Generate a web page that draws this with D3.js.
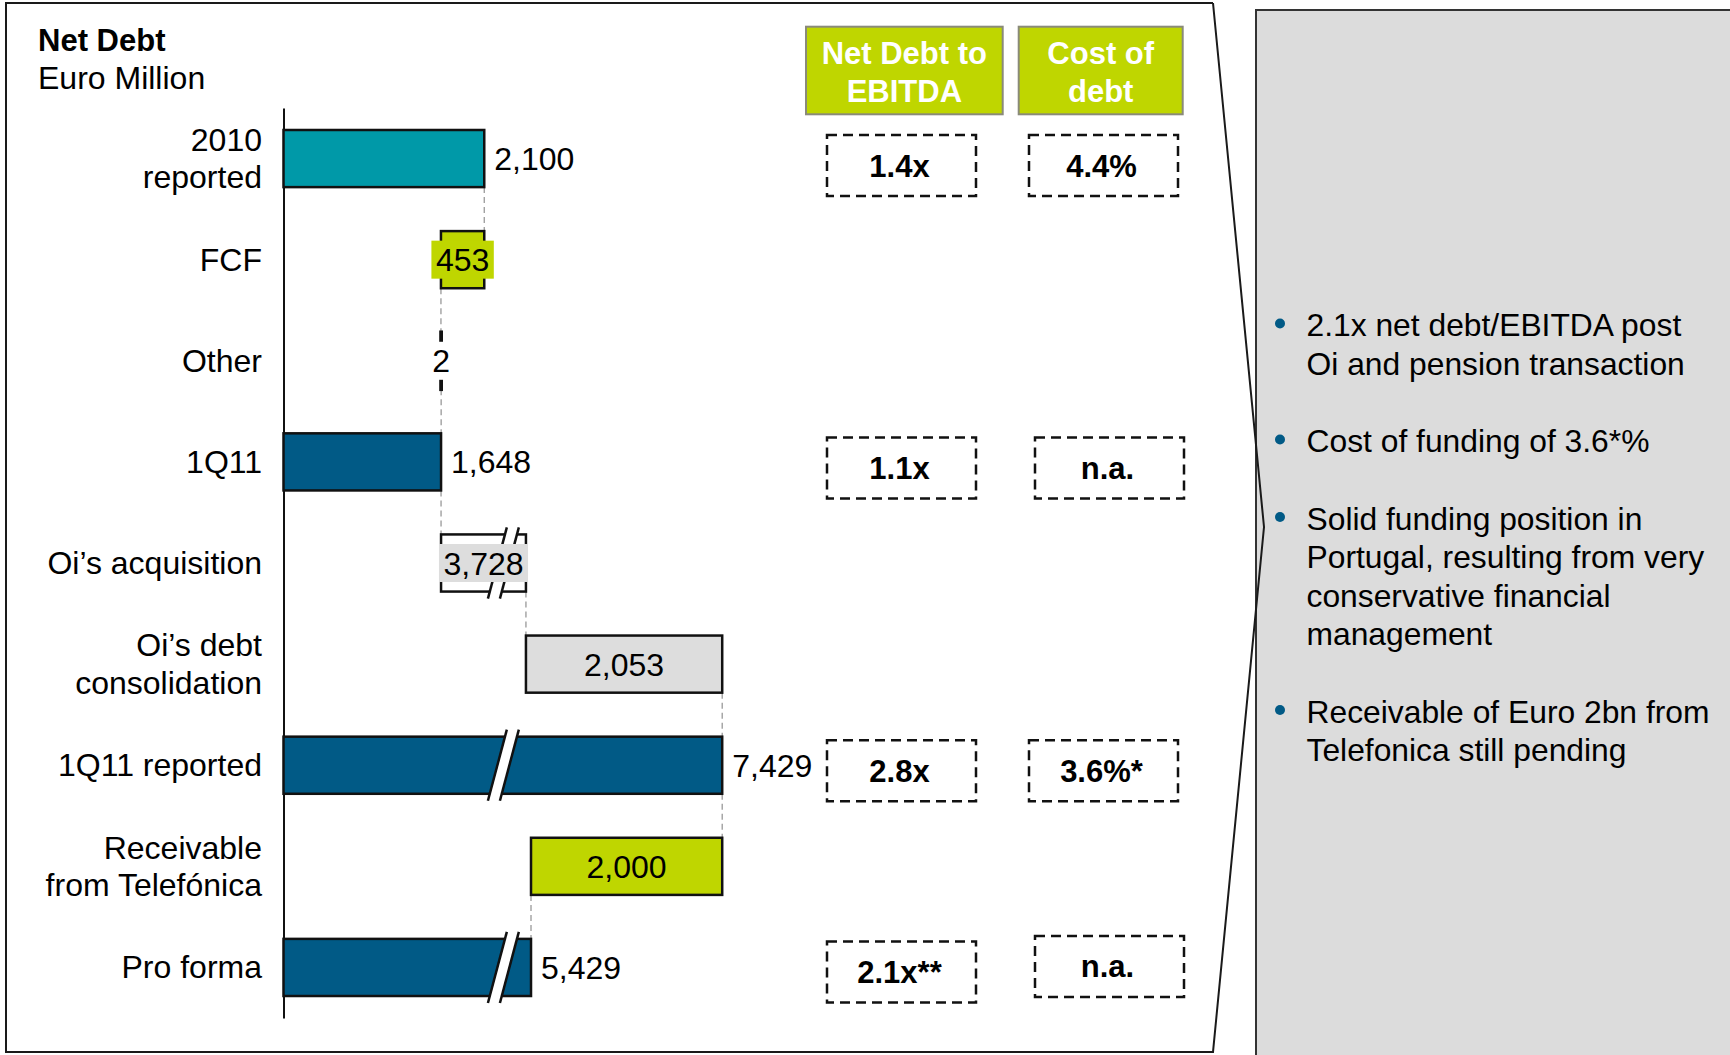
<!DOCTYPE html>
<html>
<head>
<meta charset="utf-8">
<script src="https://cdn.jsdelivr.net/npm/d3@7"></script>
<style>
  body { margin: 0; background: #fff; }
  text { font-family: "Liberation Sans", Arial, Helvetica, sans-serif; }
</style>
</head>
<body>
<script>
// ---- Net debt bridge (Euro million) ----
const categories = ["2010 reported", "FCF", "Other", "1Q11", "Oi’s acquisition",
  "Oi’s debt consolidation", "1Q11 reported", "Receivable from Telefónica", "Pro forma"];
const categoryLines = [["2010", "reported"], ["FCF"], ["Other"], ["1Q11"], ["Oi’s acquisition"],
  ["Oi’s debt", "consolidation"], ["1Q11 reported"], ["Receivable", "from Telefónica"], ["Pro forma"]];
const values = [2100, -453, 2, 1648, 3728, 2053, 7429, -2000, 5429];
const isTotal = [true, false, false, true, false, false, true, false, true];

// ---- Ratio table ----
const metricHeaders = [["Net Debt to", "EBITDA"], ["Cost of", "debt"]];
const metricRows = ["2010 reported", "1Q11", "1Q11 reported", "Pro forma"];
const netDebtToEbitda = ["1.4x", "1.1x", "2.8x", "2.1x**"];
const costOfDebt = ["4.4%", "n.a.", "3.6%*", "n.a."];

// ---- Commentary ----
const notes = [
  ["2.1x net debt/EBITDA post", "Oi and pension transaction"],
  ["Cost of funding of 3.6*%"],
  ["Solid funding position in", "Portugal, resulting from very", "conservative financial", "management"],
  ["Receivable of Euro 2bn from", "Telefonica still pending"]
];

const W = 1730, H = 1055;
const FONT = 31;
const CAT_FONT = 32;
const TEAL = "#0099a8", NAVY = "#015a86", LIME = "#bfd600", GREY = "#dddddd";

const svg = d3.select("body").append("svg").attr("width", W).attr("height", H);

// Commentary panel and the chevron frame around the chart
svg.append("rect").attr("x", 1256).attr("y", 10).attr("width", W - 1256 + 5).attr("height", H)
  .attr("fill", "#dcdcdc").attr("stroke", "#333").attr("stroke-width", 2);
svg.append("path")
  .attr("d", d3.line()([[1213, 3], [6, 3], [6, 1052], [1213, 1052], [1264, 527], [1213, 3]]))
  .attr("fill", "none").attr("stroke", "#1a1a1a").attr("stroke-width", 2);

// Title
svg.append("text").attr("x", 38).attr("y", 51).attr("font-size", FONT).attr("font-weight", "bold")
  .attr("fill", "#000").text("Net Debt");
svg.append("text").attr("x", 38).attr("y", 88.5).attr("font-size", CAT_FONT).attr("fill", "#000")
  .text("Euro Million");

// Scales: the value axis is broken between breakFrom and breakTo
const plotLeft = 283.5, pxPerUnit = 0.0956;
const breakFrom = 2300, breakTo = 5140, maxVal = d3.max(values);
const x = d3.scaleLinear()
  .domain([0, breakFrom, breakTo, maxVal])
  .range([plotLeft, plotLeft + pxPerUnit * breakFrom, plotLeft + pxPerUnit * breakFrom,
          plotLeft + pxPerUnit * (maxVal - (breakTo - breakFrom))]);
const y = d3.scaleBand().domain(categories).range([108, 1018]).paddingInner(0.435).paddingOuter(0.2175);
const bw = y.bandwidth();
const cy = c => y(c) + bw / 2;

// Waterfall geometry
let running = 0;
const bars = categories.map((c, i) => {
  let a, b;
  if (isTotal[i]) { a = 0; b = values[i]; }
  else { a = running; b = running + values[i]; }
  running = b;
  return { cat: c, i, lo: Math.min(a, b), hi: Math.max(a, b), end: b, total: isTotal[i], v: values[i] };
});

const fillOf = {
  "2010 reported": TEAL, "FCF": LIME, "Other": "#fff", "1Q11": NAVY, "Oi’s acquisition": "#fff",
  "Oi’s debt consolidation": GREY, "1Q11 reported": NAVY, "Receivable from Telefónica": LIME, "Pro forma": NAVY
};
const labelBgOf = { "FCF": LIME, "Other": "#fff", "Oi’s acquisition": GREY };

// Axis line
const axis = d3.axisLeft(y).tickSize(0).tickSizeOuter(0).tickFormat("");
svg.append("g").attr("transform", `translate(${plotLeft},0)`).call(axis)
  .call(g => g.select(".domain").attr("stroke", "#111").attr("stroke-width", 2));

// Category labels
const catG = svg.append("g");
categories.forEach((c, i) => {
  const lines = categoryLines[i];
  const lh = 37.5;
  const first = cy(c) + 11 - (lines.length - 1) * lh / 2;
  const t = catG.append("text").attr("text-anchor", "end").attr("font-size", CAT_FONT).attr("fill", "#000");
  lines.forEach((l, j) => t.append("tspan").attr("x", 262).attr("y", first + j * lh).text(l));
});

// Dashed connectors between consecutive bars
const conG = svg.append("g");
bars.slice(0, -1).forEach((b, i) => {
  const nx = bars[i + 1];
  conG.append("line")
    .attr("x1", x(b.end)).attr("x2", x(b.end))
    .attr("y1", y(b.cat) + bw).attr("y2", y(nx.cat))
    .attr("stroke", "#999").attr("stroke-width", 1.3).attr("stroke-dasharray", "6,4");
});

// Bars
const barG = svg.append("g");
barG.selectAll("rect").data(bars).join("rect")
  .attr("x", d => x(d.lo)).attr("y", d => y(d.cat))
  .attr("width", d => Math.max(0.3, x(d.hi) - x(d.lo))).attr("height", bw)
  .attr("fill", d => fillOf[d.cat]).attr("stroke", "#111")
  .attr("stroke-width", d => d.cat === "Other" ? 3.5 : 2.5);

// Break marks where a bar crosses the axis break
const slope = 0.266, gapW = 12, over = 7;
const xb = x(breakFrom);
bars.filter(d => d.lo < breakFrom && d.hi > breakTo).forEach(d => {
  const c = cy(d.cat), y0 = y(d.cat) - over, y1 = y(d.cat) + bw + over;
  const xt = xb + (c - y0) * slope, xbt = xb - (y1 - c) * slope;
  const g = barG.append("g");
  g.append("path")
    .attr("d", d3.line()([[xt - gapW / 2, y0], [xt + gapW / 2, y0], [xbt + gapW / 2, y1], [xbt - gapW / 2, y1]]) + "Z")
    .attr("fill", "#fff");
  [-1, 1].forEach(s => g.append("line")
    .attr("x1", xt + s * gapW / 2).attr("y1", y0).attr("x2", xbt + s * gapW / 2).attr("y2", y1)
    .attr("stroke", "#111").attr("stroke-width", 2.5));
});

// Value labels
const fmt = d3.format(",");
const labG = svg.append("g");
bars.forEach(d => {
  const txt = fmt(Math.abs(d.v));
  if (d.total) {
    labG.append("text").attr("x", x(d.hi) + 10).attr("y", cy(d.cat) + 11.5)
      .attr("font-size", CAT_FONT).attr("fill", "#000").text(txt);
  } else {
    const mx = (x(d.lo) + x(d.hi)) / 2;
    const bg = labG.append("rect");
    const t = labG.append("text").attr("x", mx).attr("y", cy(d.cat) + 11.5).attr("text-anchor", "middle")
      .attr("font-size", CAT_FONT).attr("fill", "#000").text(txt);
    if (labelBgOf[d.cat]) {
      const w = t.node().getComputedTextLength() + 9;
      bg.attr("x", mx - w / 2).attr("y", cy(d.cat) - 19).attr("width", w).attr("height", 38)
        .attr("fill", labelBgOf[d.cat]);
    } else bg.remove();
  }
});

// Ratio table headers
const headerBoxes = [{ x0: 806, x1: 1002.7 }, { x0: 1018.7, x1: 1182.7 }];
headerBoxes.forEach((hb, i) => {
  svg.append("rect").attr("x", hb.x0).attr("y", 26.7).attr("width", hb.x1 - hb.x0).attr("height", 87.6)
    .attr("fill", LIME).attr("stroke", "#8a8a7a").attr("stroke-width", 2);
  const t = svg.append("text").attr("text-anchor", "middle").attr("font-size", FONT)
    .attr("font-weight", "bold").attr("fill", "#fff");
  metricHeaders[i].forEach((l, j) => t.append("tspan").attr("x", (hb.x0 + hb.x1) / 2).attr("y", 63.5 + j * 38.3).text(l));
});

// Ratio table cells (dashed boxes aligned with their bars)
const cellW = 149, cellH = 61;
const colX = [827, 1029];
const colNudgeX = [[0, 0, 0, 0], [0, 6, 0, 6]];
const colNudgeY = [[7, 6, 5.5, 4.5], [7, 6, 5.5, -1]];
[netDebtToEbitda, costOfDebt].forEach((col, ci) => {
  col.forEach((v, ri) => {
    const cx0 = colX[ci] + colNudgeX[ci][ri];
    const ccy = cy(metricRows[ri]) + colNudgeY[ci][ri];
    svg.append("rect").attr("x", cx0).attr("y", ccy - cellH / 2).attr("width", cellW).attr("height", cellH)
      .attr("fill", "none").attr("stroke", "#111").attr("stroke-width", 2.5).attr("stroke-dasharray", "10,6");
    svg.append("text").attr("x", cx0 + cellW / 2 - 2).attr("y", ccy + 11).attr("text-anchor", "middle")
      .attr("font-size", FONT).attr("font-weight", "bold").attr("fill", "#000").text(v);
  });
});

// Commentary bullets
const noteG = svg.append("g");
let base = 336;
notes.forEach(p => {
  noteG.append("circle").attr("cx", 1280).attr("cy", base - 12.5).attr("r", 5).attr("fill", NAVY);
  const t = noteG.append("text").attr("font-size", 31.8).attr("fill", "#000");
  p.forEach((l, j) => t.append("tspan").attr("x", 1306.5).attr("y", base + j * 38.5).text(l));
  base += p.length * 38.5 + 39;
});
</script>
</body>
</html>
